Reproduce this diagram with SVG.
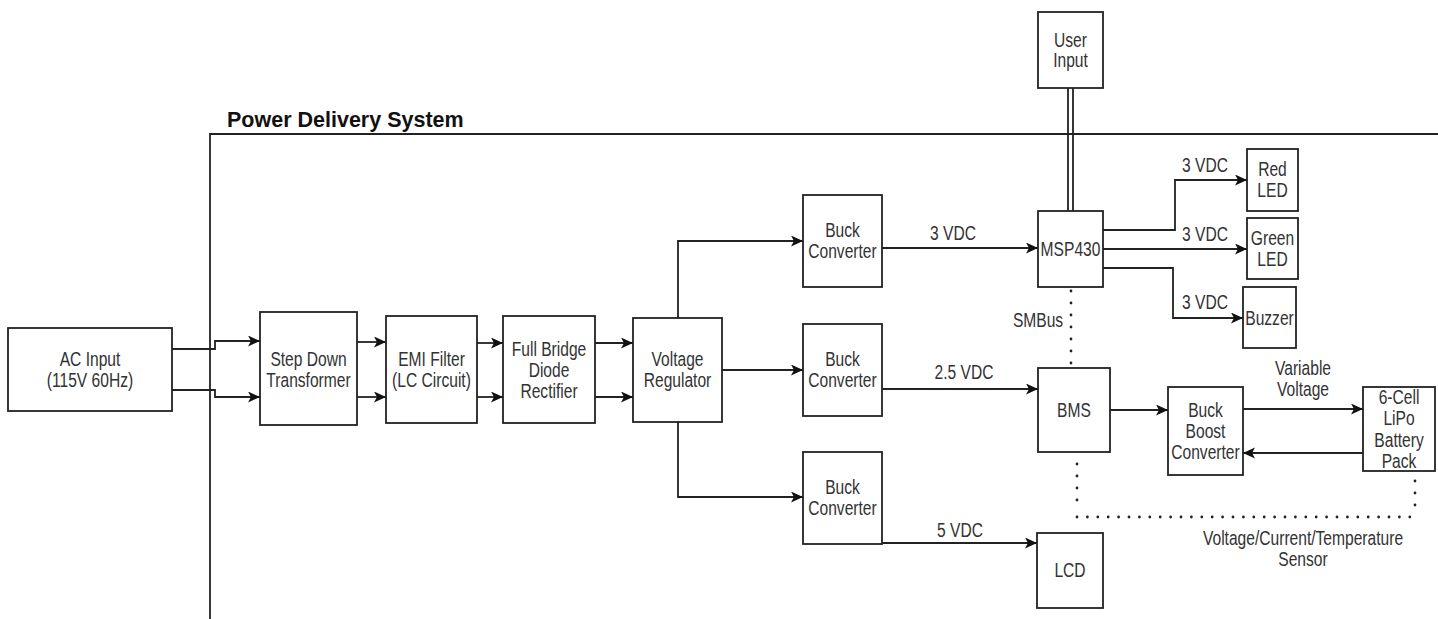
<svg xmlns="http://www.w3.org/2000/svg" width="1438" height="619" viewBox="0 0 1438 619">
<style>
.box{fill:#fff;stroke:#222;stroke-width:1.8}
.t{font-family:"Liberation Sans",Arial,sans-serif;font-size:19.5px;fill:#333;text-anchor:middle}
.title{font-family:"Liberation Sans",Arial,sans-serif;font-size:21.5px;font-weight:bold;fill:#111}
.ln{fill:none;stroke:#222;stroke-width:1.8}
.arr{marker-end:url(#ah)}
.doth{fill:none;stroke:#222;stroke-width:2.8;stroke-linecap:round;stroke-dasharray:0 10.4}
.dotv{fill:none;stroke:#222;stroke-width:2.8;stroke-linecap:round;stroke-dasharray:0 12}
</style>
<defs>
<marker id="ah" markerUnits="userSpaceOnUse" markerWidth="14" markerHeight="12" refX="12" refY="5.5" orient="auto">
<path d="M0,0 L12,5.5 L0,11 L3,5.5 Z" fill="#111"/>
</marker>
</defs>
<rect width="1438" height="619" fill="#fff"/>

<g id="container">
<path class="ln" d="M210,619 V134 H1438"/>
<text class="title" x="227" y="127">Power Delivery System</text>
</g>

<g id="connectors">
<path class="ln arr" d="M172,349 H215 V341 H260"/>
<path class="ln arr" d="M172,390 H215 V397 H260"/>
<path class="ln arr" d="M357,342 H386"/>
<path class="ln arr" d="M357,397 H386"/>
<path class="ln arr" d="M477,343 H503"/>
<path class="ln arr" d="M477,397 H503"/>
<path class="ln arr" d="M595,343 H633"/>
<path class="ln arr" d="M595,397 H633"/>
<path class="ln arr" d="M678,318 V241 H803"/>
<path class="ln arr" d="M722,370 H803"/>
<path class="ln arr" d="M678,422 V497 H803"/>
<path class="ln arr" d="M882,248 H1038"/>
<path class="ln arr" d="M882,389 H1038"/>
<path class="ln arr" d="M882,543 H1037"/>
<path class="ln" d="M1068,88 V211 M1073,88 V211"/>
<path class="ln arr" d="M1103,230 H1175 V180 H1247"/>
<path class="ln arr" d="M1103,249 H1247"/>
<path class="ln arr" d="M1103,268 H1173 V318 H1243"/>
<path class="dotv" d="M1071,291 V368"/>
<path class="ln arr" d="M1110,410 H1168"/>
<path class="ln arr" d="M1243,409 H1363"/>
<path class="ln arr" d="M1363,453 H1243"/>
<path class="dotv" d="M1077,464 V512"/>
<path class="doth" d="M1077,517 H1415"/>
<path class="dotv" d="M1415,505 V478"/>
<g transform="translate(953 0) scale(0.8 1)"><text class="t" x="0" y="240">3 VDC</text></g>
<g transform="translate(964 0) scale(0.8 1)"><text class="t" x="0" y="379">2.5 VDC</text></g>
<g transform="translate(960 0) scale(0.8 1)"><text class="t" x="0" y="537">5 VDC</text></g>
<g transform="translate(1205 0) scale(0.8 1)"><text class="t" x="0" y="172">3 VDC</text></g>
<g transform="translate(1205 0) scale(0.8 1)"><text class="t" x="0" y="241">3 VDC</text></g>
<g transform="translate(1205 0) scale(0.8 1)"><text class="t" x="0" y="309">3 VDC</text></g>
<g transform="translate(1038 0) scale(0.8 1)"><text class="t" x="0" y="327">SMBus</text></g>
<g transform="translate(1303 0) scale(0.8 1)"><text class="t"><tspan x="0" y="375">Variable</tspan><tspan x="0" y="396">Voltage</tspan></text></g>
<g transform="translate(1303 0) scale(0.8 1)"><text class="t"><tspan x="0" y="545">Voltage/Current/Temperature</tspan><tspan x="0" y="566">Sensor</tspan></text></g>
</g>

<g id="ac-input">
<rect class="box" x="8" y="328" width="164" height="83"/>
<g transform="translate(90 0) scale(0.8 1)"><text class="t"><tspan x="0" y="366">AC Input</tspan><tspan x="0" y="387">(115V 60Hz)</tspan></text></g>
</g>
<g id="step-down">
<rect class="box" x="260" y="312" width="97" height="113"/>
<g transform="translate(308.5 0) scale(0.8 1)"><text class="t"><tspan x="0" y="366">Step Down</tspan><tspan x="0" y="387">Transformer</tspan></text></g>
</g>
<g id="emi-filter">
<rect class="box" x="386" y="316" width="91" height="107"/>
<g transform="translate(431.5 0) scale(0.8 1)"><text class="t"><tspan x="0" y="366">EMI Filter</tspan><tspan x="0" y="387">(LC Circuit)</tspan></text></g>
</g>
<g id="rectifier">
<rect class="box" x="503" y="316" width="92" height="107"/>
<g transform="translate(549 0) scale(0.8 1)"><text class="t"><tspan x="0" y="356">Full Bridge</tspan><tspan x="0" y="377">Diode</tspan><tspan x="0" y="398">Rectifier</tspan></text></g>
</g>
<g id="voltage-regulator">
<rect class="box" x="633" y="318" width="89" height="104"/>
<g transform="translate(677.5 0) scale(0.8 1)"><text class="t"><tspan x="0" y="366">Voltage</tspan><tspan x="0" y="387">Regulator</tspan></text></g>
</g>
<g id="buck1">
<rect class="box" x="803" y="195" width="79" height="92"/>
<g transform="translate(842.5 0) scale(0.8 1)"><text class="t"><tspan x="0" y="237">Buck</tspan><tspan x="0" y="258">Converter</tspan></text></g>
</g>
<g id="buck2">
<rect class="box" x="803" y="324" width="79" height="92"/>
<g transform="translate(842.5 0) scale(0.8 1)"><text class="t"><tspan x="0" y="366">Buck</tspan><tspan x="0" y="387">Converter</tspan></text></g>
</g>
<g id="buck3">
<rect class="box" x="803" y="452" width="79" height="92"/>
<g transform="translate(842.5 0) scale(0.8 1)"><text class="t"><tspan x="0" y="494">Buck</tspan><tspan x="0" y="515">Converter</tspan></text></g>
</g>
<g id="user-input">
<rect class="box" x="1038" y="12" width="65" height="76"/>
<g transform="translate(1070.5 0) scale(0.8 1)"><text class="t"><tspan x="0" y="47">User</tspan><tspan x="0" y="67">Input</tspan></text></g>
</g>
<g id="msp430">
<rect class="box" x="1038" y="211" width="65" height="76"/>
<g transform="translate(1070.5 0) scale(0.8 1)"><text class="t" x="0" y="256">MSP430</text></g>
</g>
<g id="red-led">
<rect class="box" x="1247" y="149" width="51" height="62"/>
<g transform="translate(1272.5 0) scale(0.8 1)"><text class="t"><tspan x="0" y="176">Red</tspan><tspan x="0" y="197">LED</tspan></text></g>
</g>
<g id="green-led">
<rect class="box" x="1247" y="218" width="51" height="61"/>
<g transform="translate(1272.5 0) scale(0.8 1)"><text class="t"><tspan x="0" y="245">Green</tspan><tspan x="0" y="266">LED</tspan></text></g>
</g>
<g id="buzzer">
<rect class="box" x="1243" y="287" width="53" height="61"/>
<g transform="translate(1269.5 0) scale(0.8 1)"><text class="t" x="0" y="325">Buzzer</text></g>
</g>
<g id="bms">
<rect class="box" x="1038" y="368" width="72" height="84"/>
<g transform="translate(1074 0) scale(0.8 1)"><text class="t" x="0" y="417">BMS</text></g>
</g>
<g id="lcd">
<rect class="box" x="1037" y="533" width="66" height="75"/>
<g transform="translate(1070 0) scale(0.8 1)"><text class="t" x="0" y="577">LCD</text></g>
</g>
<g id="buck-boost">
<rect class="box" x="1168" y="387" width="75" height="88"/>
<g transform="translate(1205.5 0) scale(0.8 1)"><text class="t"><tspan x="0" y="417">Buck</tspan><tspan x="0" y="438">Boost</tspan><tspan x="0" y="459">Converter</tspan></text></g>
</g>
<g id="battery">
<rect class="box" x="1363" y="387" width="72" height="84"/>
<g transform="translate(1399 0) scale(0.8 1)"><text class="t"><tspan x="0" y="404">6-Cell</tspan><tspan x="0" y="425">LiPo</tspan><tspan x="0" y="447">Battery</tspan><tspan x="0" y="468">Pack</tspan></text></g>
</g>
</svg>
